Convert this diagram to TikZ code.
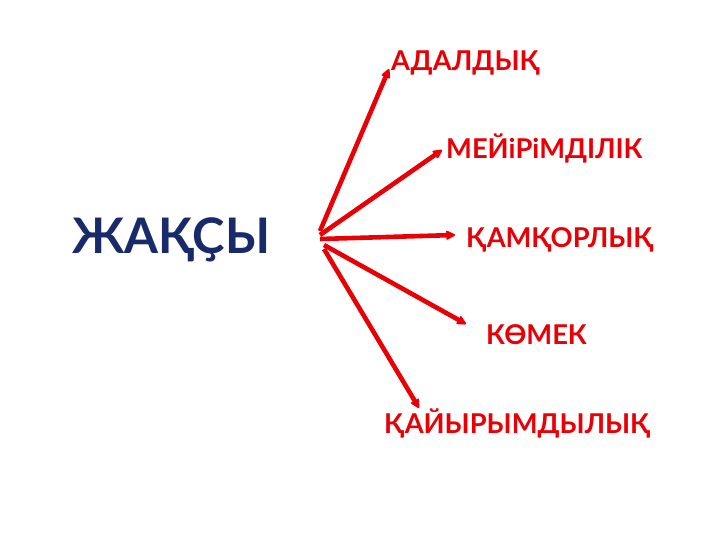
\documentclass[tikz,border=0pt]{standalone}
\usepackage{fontspec}
\setmainfont{Lato}[BoldFont={* Bold}]
\usetikzlibrary{arrows.meta}
\definecolor{lblred}{RGB}{232,0,6}
\definecolor{navy}{RGB}{24,42,105}
\tikzset{
  lbl/.style={text=lblred,font=\fontsize{27.3}{30}\selectfont\bfseries,inner sep=0pt,anchor=west},
  arr/.style={draw=lblred,line width=4.6pt,-{Stealth[length=12pt,width=12pt,round]}}
}
\begin{document}
\begin{tikzpicture}[x=1pt,y=-1pt]
\useasboundingbox[fill=white] (0,0) rectangle (720,540);
\node[text=navy,font=\fontsize{49}{52}\selectfont\bfseries,inner sep=0pt,anchor=west] (main) at (72,240) {ЖАҚҪЫ};
\node[lbl] (l1) at (391,63) {АДАЛДЫҚ};
\node[lbl] (l2) at (446,148) {МЕЙіРіМДІЛІК};
\node[lbl] (l3) at (466,240) {ҚАМҚОРЛЫҚ};
\node[lbl] (l4) at (486,335) {КӨМЕК};
\node[lbl] (l5) at (384,423) {ҚАЙЫРЫМДЫЛЫҚ};
\coordinate (s1) at (320,231);
\coordinate (s2) at (320,235);
\coordinate (s3) at (320,239);
\coordinate (s4) at (324,245);
\coordinate (s5) at (324,249);
\coordinate (t1) at (389,69);
\coordinate (t2) at (442,150);
\coordinate (t3) at (455,235);
\coordinate (t4) at (466,324);
\coordinate (t5) at (419,408);
\draw[arr] (s1) -- (t1);
\draw[arr] (s2) -- (t2);
\draw[arr] (s3) -- (t3);
\draw[arr] (s4) -- (t4);
\draw[arr] (s5) -- (t5);
\end{tikzpicture}
\end{document}
